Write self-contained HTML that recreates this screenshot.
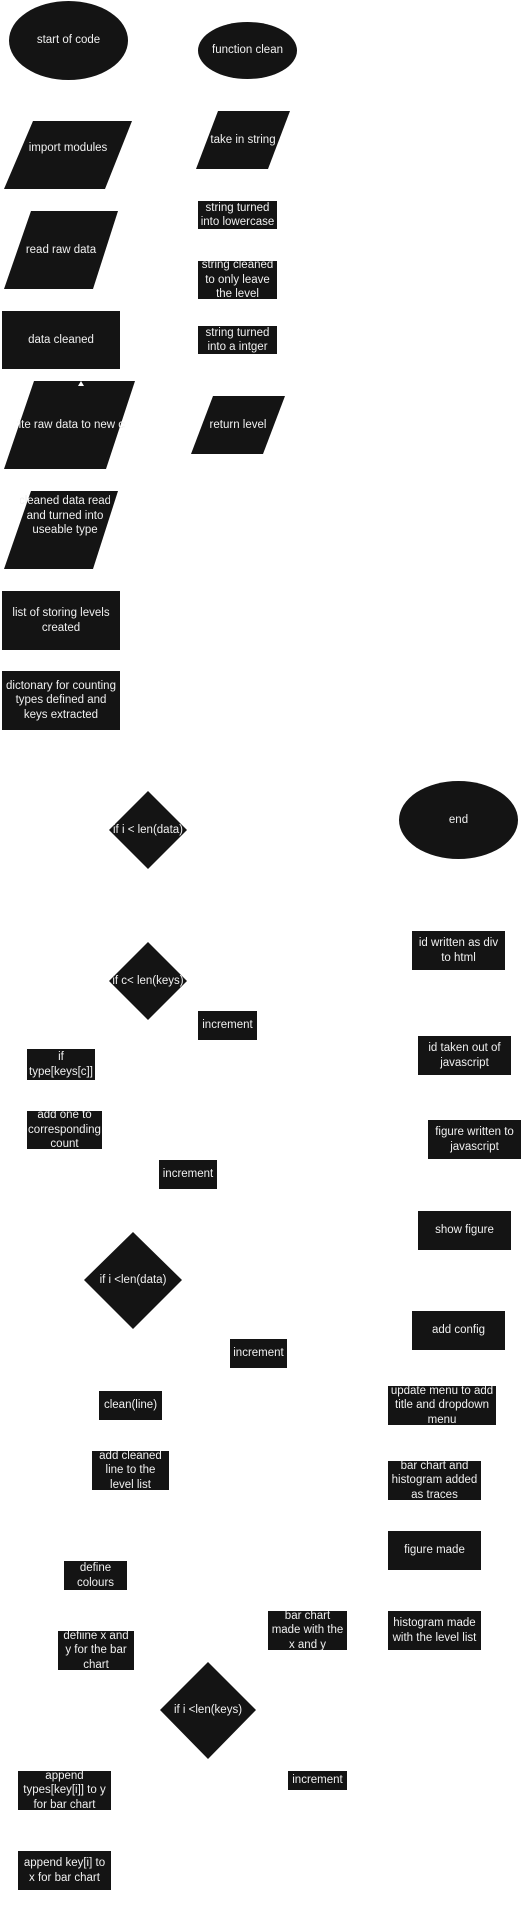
<!DOCTYPE html>
<html><head><meta charset="utf-8"><style>
html,body{margin:0;padding:0;background:#fff;}
body{width:524px;height:1919px;position:relative;overflow:hidden;font-family:"Liberation Sans",Arial,sans-serif;}
.n{position:absolute;background:#141414;color:#f0f0f0;font-size:11.5px;line-height:14.5px;display:flex;align-items:center;justify-content:center;text-align:center;overflow:hidden;white-space:nowrap;box-sizing:border-box;}
.e{border-radius:50%;}
.t{position:absolute;color:#f0f0f0;font-size:11.5px;line-height:14.5px;display:flex;align-items:center;justify-content:center;text-align:center;}
svg{position:absolute;left:0;top:0;}
</style></head><body>
<svg width="524" height="1919">
<g fill="#141414">
<polygon points="33,121 132,121 105,189 4,189"/>
<polygon points="218,111 290,111 268,169 196,169"/>
<polygon points="31,211 118,211 93,289 4,289"/>
<polygon points="34,381 135,381 106,469 4,469"/>
<polygon points="213,396 285,396 263,454 191,454"/>
<polygon points="31,491 118,491 93,569 4,569"/>
<polygon points="148,791 187,830 148,869 109,830"/>
<polygon points="148,942 187,981 148,1020 109,981"/>
<polygon points="133,1232 182,1280 133,1329 84,1280"/>
<polygon points="208,1662 256,1710 208,1759 160,1710"/>
</g>
<polygon points="78,386 84,386 81,381" fill="#fff"/>
</svg>
<div class="n e" style="left:9px;top:1px;width:119px;height:79px;">start of code</div>
<div class="n e" style="left:198px;top:22px;width:99px;height:57px;">function clean</div>
<div class="t" style="left:4px;top:121px;width:128px;height:55px;">import modules</div>
<div class="t" style="left:196px;top:111px;width:94px;height:58px;">take in string</div>
<div class="t" style="left:4px;top:211px;width:114px;height:78px;">read raw data</div>
<div class="n" style="left:198px;top:201px;width:79px;height:28px;"><div>string turned<br>into lowercase</div></div>
<div class="n" style="left:198px;top:261px;width:79px;height:38px;"><div>string cleaned<br>to only leave<br>the level</div></div>
<div class="n" style="left:2px;top:311px;width:118px;height:58px;">data cleaned</div>
<div class="n" style="left:198px;top:326px;width:79px;height:28px;"><div>string turned<br>into a intger</div></div>
<div class="t" style="left:17px;top:381px;width:108px;height:88px;overflow:hidden;white-space:nowrap;">write raw data to new csv</div>
<div class="t" style="left:191px;top:396px;width:94px;height:58px;">return level</div>
<div class="t" style="left:20px;top:491px;width:90px;height:78px;overflow:hidden;white-space:nowrap;"><div style="width:96px;flex:none;margin-top:-28px;">cleaned data read<br>and turned into<br>useable type</div></div>
<div class="n" style="left:2px;top:591px;width:118px;height:59px;"><div>list of storing levels<br>created</div></div>
<div class="n" style="left:2px;top:671px;width:118px;height:59px;"><div>dictonary for counting<br>types defined and<br>keys extracted</div></div>
<div class="t" style="left:109px;top:791px;width:78px;height:78px;white-space:nowrap;overflow:hidden;">if i &lt; len(data)</div>
<div class="n e" style="left:399px;top:781px;width:119px;height:78px;">end</div>
<div class="n" style="left:412px;top:931px;width:93px;height:39px;"><div>id written as div<br>to html</div></div>
<div class="t" style="left:109px;top:942px;width:78px;height:78px;white-space:nowrap;overflow:hidden;">if c&lt; len(keys)</div>
<div class="n" style="left:198px;top:1011px;width:59px;height:29px;">increment</div>
<div class="n" style="left:27px;top:1049px;width:68px;height:31px;"><div>if<br>type[keys[c]]</div></div>
<div class="n" style="left:418px;top:1036px;width:93px;height:39px;"><div>id taken out of<br>javascript</div></div>
<div class="n" style="left:27px;top:1111px;width:75px;height:38px;"><div>add one to<br>corresponding<br>count</div></div>
<div class="n" style="left:428px;top:1120px;width:93px;height:39px;"><div>figure written to<br>javascript</div></div>
<div class="n" style="left:159px;top:1160px;width:58px;height:29px;">increment</div>
<div class="n" style="left:418px;top:1211px;width:93px;height:39px;">show figure</div>
<div class="t" style="left:84px;top:1232px;width:98px;height:97px;white-space:nowrap;">if i &lt;len(data)</div>
<div class="n" style="left:412px;top:1311px;width:93px;height:39px;">add config</div>
<div class="n" style="left:230px;top:1339px;width:57px;height:29px;">increment</div>
<div class="n" style="left:99px;top:1391px;width:63px;height:29px;">clean(line)</div>
<div class="n" style="left:388px;top:1386px;width:108px;height:39px;"><div>update menu to add<br>title and dropdown<br>menu</div></div>
<div class="n" style="left:92px;top:1451px;width:77px;height:39px;"><div>add cleaned<br>line to the<br>level list</div></div>
<div class="n" style="left:388px;top:1461px;width:93px;height:39px;"><div>bar chart and<br>histogram added<br>as traces</div></div>
<div class="n" style="left:388px;top:1531px;width:93px;height:39px;">figure made</div>
<div class="n" style="left:64px;top:1561px;width:63px;height:29px;"><div>define<br>colours</div></div>
<div class="n" style="left:268px;top:1611px;width:79px;height:39px;"><div>bar chart<br>made with the<br>x and y</div></div>
<div class="n" style="left:388px;top:1611px;width:93px;height:39px;"><div>histogram made<br>with the level list</div></div>
<div class="n" style="left:58px;top:1631px;width:76px;height:39px;"><div>defiine x and<br>y for the bar<br>chart</div></div>
<div class="t" style="left:160px;top:1662px;width:96px;height:97px;white-space:nowrap;">if i &lt;len(keys)</div>
<div class="n" style="left:18px;top:1771px;width:93px;height:39px;"><div>append<br>types[key[i]] to y<br>for bar chart</div></div>
<div class="n" style="left:288px;top:1771px;width:59px;height:19px;">increment</div>
<div class="n" style="left:18px;top:1851px;width:93px;height:39px;"><div>append key[i] to<br>x for bar chart</div></div>
</body></html>
